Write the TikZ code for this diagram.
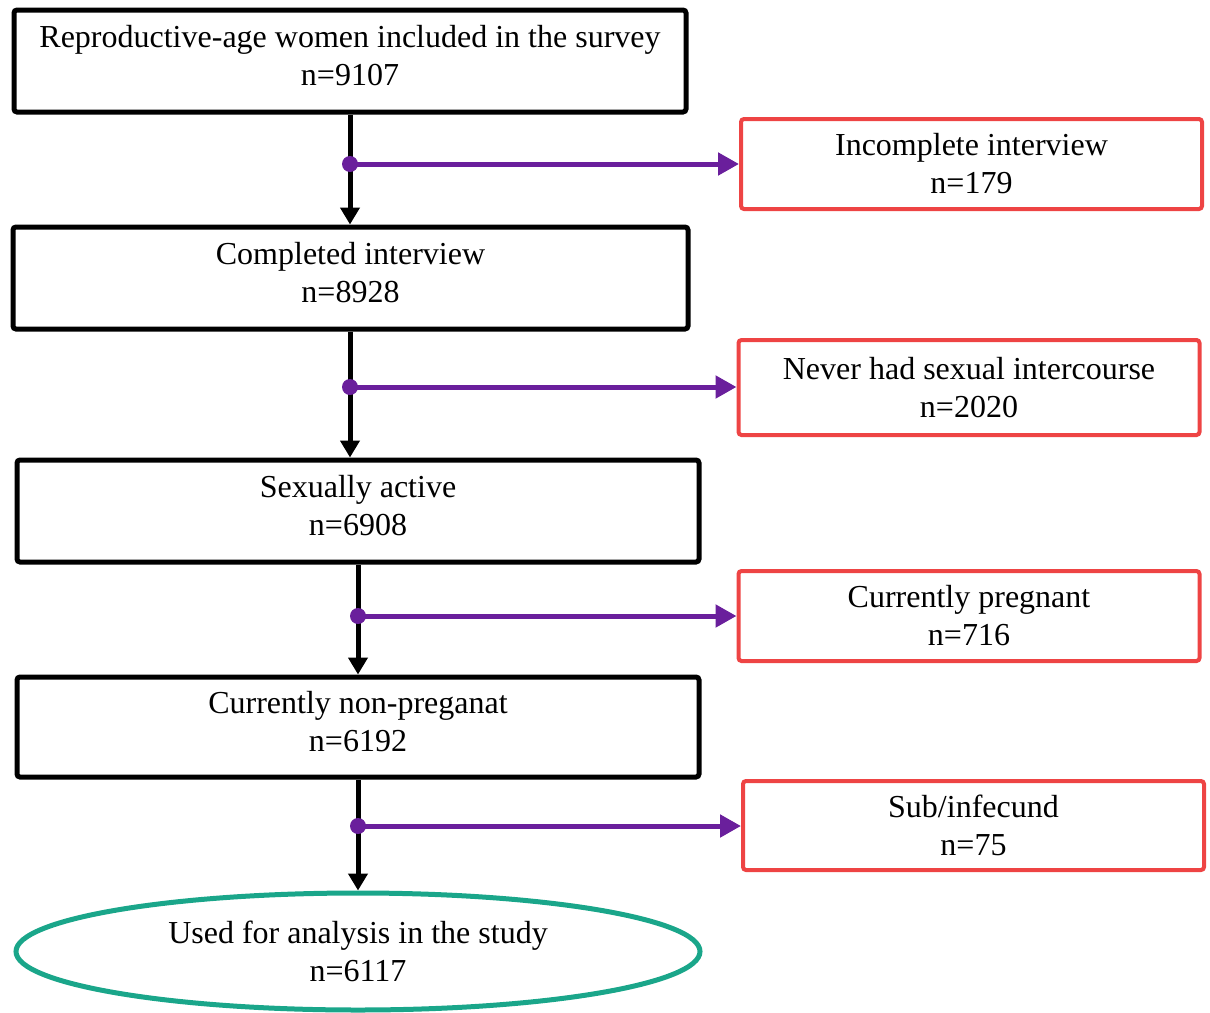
\documentclass[tikz,border=0pt]{standalone}
\usepackage{fontspec}
\setmainfont{Liberation Serif}
\usetikzlibrary{arrows.meta,shapes.geometric}
\definecolor{boxred}{HTML}{EE4444}
\definecolor{linkpurple}{HTML}{6A1F9C}
\definecolor{endgreen}{HTML}{1AA68A}
\tikzset{
    mainbox/.style={draw=black, line width=5pt, rounded corners=3pt, align=center, inner sep=0pt, font=\fontsize{32}{38}\selectfont, execute at end node={\rule[-12pt]{0pt}{12pt}}},
    outbox/.style={draw=boxred, line width=4pt, rounded corners=3pt, align=center, inner sep=0pt, minimum width=461pt, font=\fontsize{32}{38}\selectfont},
    downarrow/.style={line width=5pt, -{Triangle[length=17pt,width=19pt]}},
    sidearrow/.style={linkpurple, line width=5pt, -{Triangle[length=21pt,width=22pt]}},
}
\begin{document}
\begin{tikzpicture}[x=1pt,y=1pt]
        \useasboundingbox (0,0) rectangle (1210,-1012);
        \node[mainbox, minimum width=672pt, minimum height=102pt] (total) at (350,-61) {Reproductive-age women included in the survey\\n=9107}; %survey
        \node[mainbox, minimum width=675pt, minimum height=102pt] (complete) at (350.5,-278) {Completed interview\\n=8928}; %interview
        \node[mainbox, minimum width=682pt, minimum height=102pt] (active) at (358,-511) {Sexually active\\n=6908}; %aktiv
        \node[mainbox, minimum width=682pt, minimum height=100pt] (nonpreg) at (358,-727) {Currently non-preganat\\n=6192}; %nicht schwanger
        \node[draw=endgreen, line width=5pt, ellipse, inner sep=0pt, minimum width=684pt, minimum height=117pt, align=center, font=\fontsize{32}{38}\selectfont] (used) at (358,-951.5) {Used for analysis in the study\\n=6117}; %analyse

        \node[outbox, minimum height=90pt] (incomplete) at (971.5,-164) {Incomplete interview\\n=179};
        \node[outbox, minimum height=95pt] (never) at (969,-387.5) {Never had sexual intercourse\\n=2020};
        \node[outbox, minimum height=90pt] (pregnant) at (969,-616) {Currently pregnant\\n=716};
        \node[outbox, minimum height=89pt] (infecund) at (973.5,-825.5) {Sub/infecund\\n=75};

        % --------------------------------------------------

        \coordinate (split1) at (350,-164);
        \coordinate (split2) at (350,-387);
        \coordinate (split3) at (358,-616);
        \coordinate (split4) at (358,-826);

        \draw[downarrow] (total.south -| split1) -- (complete.north -| split1);
        \draw[downarrow] (complete.south -| split2) -- (active.north -| split2);
        \draw[downarrow] (active.south -| split3) -- (nonpreg.north -| split3);
        \draw[downarrow] (nonpreg.south -| split4) -- (used.north -| split4);

        % --------------------------------------------------

        \foreach \s/\t in {split1/incomplete, split2/never, split3/pregnant, split4/infecund}{
            \draw[sidearrow] (\s) -- (\s -| \t.west);
            \fill[linkpurple] (\s) circle (8pt);
        }
\end{tikzpicture}
\end{document}
